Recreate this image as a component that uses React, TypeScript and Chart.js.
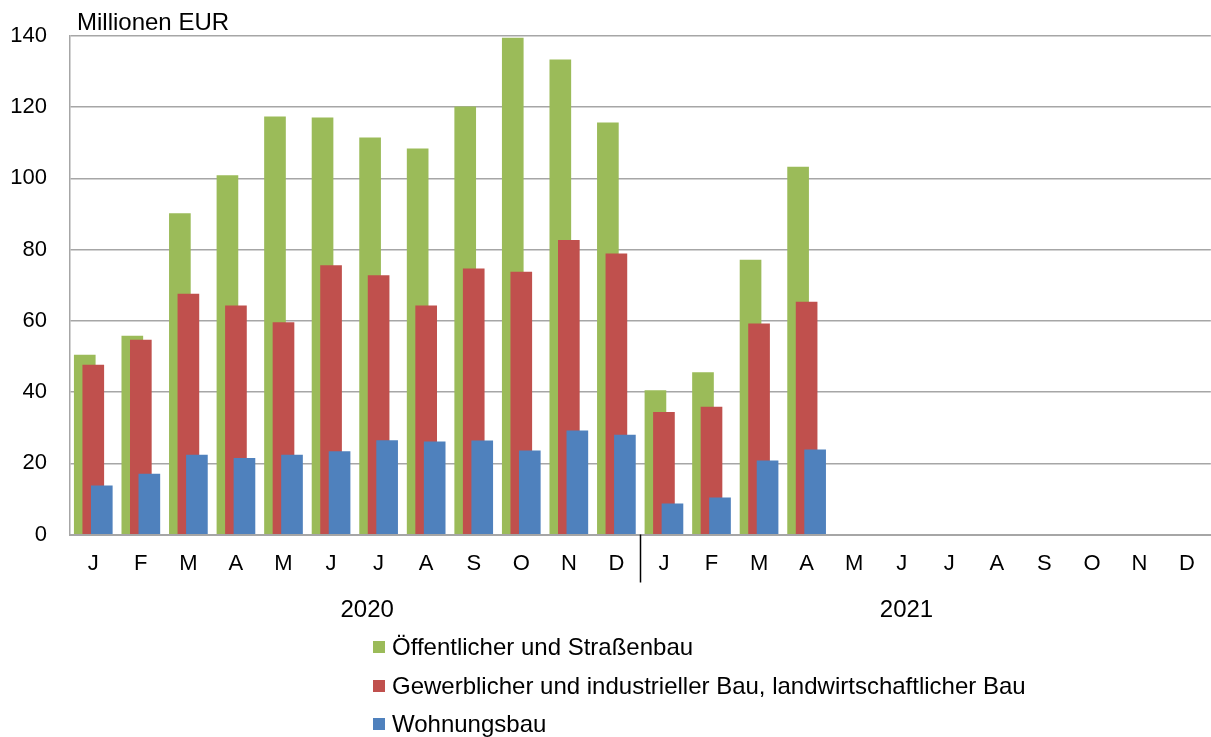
import { useEffect, useRef } from "react";
import { Chart, registerables } from "chart.js";

Chart.register(...registerables);

const months = ["J", "F", "M", "A", "M", "J", "J", "A", "S", "O", "N", "D", "J", "F", "M", "A", "M", "J", "J", "A", "S", "O", "N", "D"];
const years = ["2020", "2021"];
const seriesNames = [
  "Öffentlicher und Straßenbau",
  "Gewerblicher und industrieller Bau, landwirtschaftlicher Bau",
  "Wohnungsbau",
];
const oeffentlicherBau = [50.4, 55.7, 90.1, 100.8, 117.3, 117.0, 111.4, 108.3, 120.1, 139.4, 133.3, 115.6, 40.4, 45.5, 77.1, 103.2];
const gewerblicherBau = [47.6, 54.6, 67.5, 64.2, 59.5, 75.5, 72.7, 64.2, 74.6, 73.7, 82.6, 78.8, 34.3, 35.8, 59.2, 65.3];
const wohnungsbau = [13.7, 17.0, 22.3, 21.4, 22.3, 23.3, 26.4, 26.0, 26.3, 23.5, 29.1, 27.9, 8.6, 10.3, 20.7, 23.8];
const yTicks = [0, 20, 40, 60, 80, 100, 120, 140];
const unitLabel = "Millionen EUR";

const COLORS = ["#9BBB59", "#C0504D", "#4F81BD"];
const FONT = '"Liberation Sans", Arial, sans-serif';
const SERIES_SHIFT = 0.179; // horizontal overlap offset between series, in category units
const YEAR_LABEL_POS = [5.76, 17.1];

export default function App() {
  const canvasRef = useRef<HTMLCanvasElement | null>(null);

  useEffect(() => {
    const canvas = canvasRef.current;
    if (!canvas) return;
    const series = [oeffentlicherBau, gewerblicherBau, wohnungsbau];
    const datasets = series.map((vals, s) => ({
      label: seriesNames[s],
      data: vals.map((v, i) => ({ x: i + (s - 1) * SERIES_SHIFT, y: v })),
      backgroundColor: COLORS[s],
      borderWidth: 0,
      barThickness: 21,
      grouped: false,
      order: 3 - s,
    }));

    const overlay = {
      id: "overlay",
      afterDraw(chart: any) {
        const { ctx, chartArea } = chart;
        const x = chart.scales.x;
        ctx.save();
        ctx.fillStyle = "#000";
        ctx.font = `24px ${FONT}`;
        ctx.textAlign = "left";
        ctx.textBaseline = "alphabetic";
        ctx.fillText(unitLabel, chartArea.left + 7.5, 29.5);
        // separator between years
        const sx = Math.round(x.getPixelForValue(11.5)) + 0.5;
        ctx.strokeStyle = "#000";
        ctx.lineWidth = 1.5;
        ctx.beginPath();
        ctx.moveTo(sx, chartArea.bottom);
        ctx.lineTo(sx, chartArea.bottom + 48);
        ctx.stroke();
        ctx.textAlign = "center";
        ctx.textBaseline = "middle";
        years.forEach((yr, k) => {
          ctx.fillText(yr, x.getPixelForValue(YEAR_LABEL_POS[k]), 610.5);
        });
        ctx.restore();
      },
    };

    const chart = new Chart(canvas, {
      type: "bar",
      data: { datasets: datasets as any },
      options: {
        animation: false,
        responsive: true,
        maintainAspectRatio: false,
        layout: { padding: { top: 36, right: 0, left: 0, bottom: 0 } },
        plugins: {
          legend: { display: false },
          tooltip: { enabled: false },
          title: { display: false },
        },
        scales: {
          x: {
            type: "linear",
            min: -0.5,
            max: 23.5,
            offset: false,
            afterBuildTicks: (scale: any) => {
              scale.ticks = months.map((_, i) => ({ value: i }));
            },
            afterFit: (scale: any) => {
              scale.height = 202.5;
            },
            ticks: {
              autoSkip: false,
              maxRotation: 0,
              minRotation: 0,
              padding: 16,
              color: "#000",
              font: { family: FONT, size: 22 },
              callback: (v: any) => months[v as number] ?? "",
            },
            grid: { display: false, drawTicks: false },
            border: { display: true, color: "#A6A6A6", width: 2 },
          },
          y: {
            type: "linear",
            min: 0,
            max: 140,
            afterBuildTicks: (scale: any) => {
              scale.ticks = yTicks.map((v) => ({ value: v }));
            },
            afterFit: (scale: any) => {
              scale.width = 69.5;
            },
            ticks: {
              padding: 22.5,
              color: "#000",
              font: { family: FONT, size: 22 },
            },
            grid: { color: "#A6A6A6", lineWidth: 1.5, drawTicks: false },
            border: { display: true, color: "#A6A6A6", width: 1.5 },
          },
        },
      },
      plugins: [overlay],
    });
    return () => chart.destroy();
  }, []);

  return (
    <div style={{ position: "absolute", left: 0, top: 0, width: 1211, height: 737, background: "#fff", fontFamily: FONT }}>
      <canvas ref={canvasRef} />
      <div style={{ position: "absolute", left: 373, top: 627.75 }}>
        {seriesNames.map((name, s) => (
          <div key={name} style={{ display: "flex", alignItems: "center", height: 38.5, whiteSpace: "nowrap" }}>
            <span style={{ display: "inline-block", width: 12, height: 12, background: COLORS[s], marginRight: 7 }} />
            <span style={{ fontSize: 24, color: "#000" }}>{name}</span>
          </div>
        ))}
      </div>
    </div>
  );
}
